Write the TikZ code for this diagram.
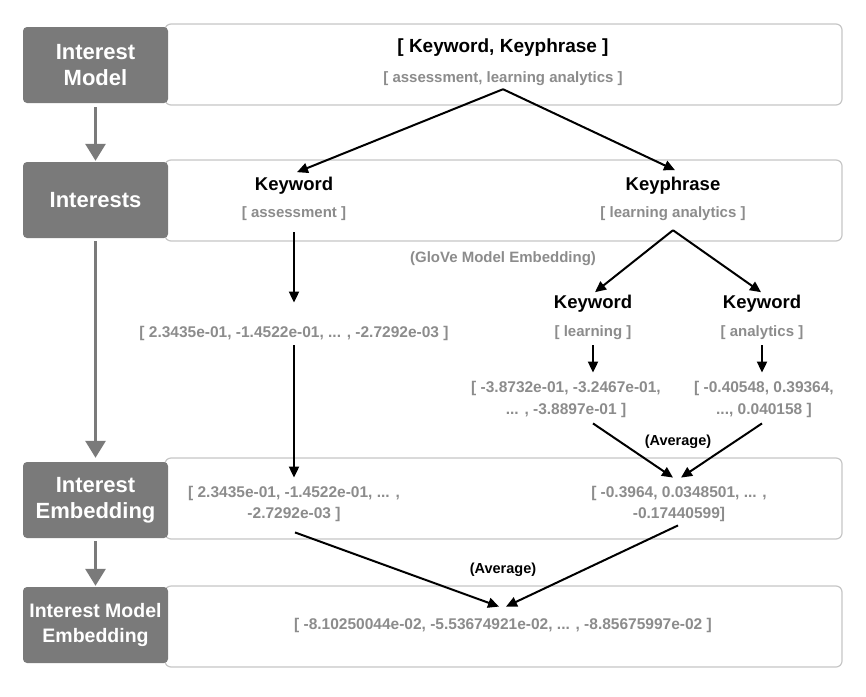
\documentclass[tikz,border=0pt]{standalone}
\usepackage{fontspec}
\setmainfont{Liberation Sans}
\usetikzlibrary{arrows.meta,calc}
\definecolor{boxgray}{HTML}{7A7A7A}
\definecolor{txtgray}{HTML}{8C8C8C}
\definecolor{edgegray}{HTML}{C6C6C6}
\begin{document}
\begin{tikzpicture}[x=1pt,y=-1pt,
  panel/.style={draw=edgegray, line width=1.2pt, rounded corners=6pt, fill=white,
    minimum width=677pt, minimum height=81pt, inner sep=0pt},
  sidebox/.style={fill=boxgray, rounded corners=4pt, minimum width=145pt, minimum height=76pt,
    text=white, font=\bfseries\fontsize{22}{26}\selectfont, align=center, inner sep=0pt},
  blacktxt/.style={inner sep=0pt, font=\bfseries\fontsize{18.5}{22}\selectfont},
  graytxt/.style={inner sep=0pt, text=txtgray, font=\bfseries\fontsize{15}{22}\selectfont, align=center},
  avgtxt/.style={inner sep=0pt, font=\bfseries\fontsize{14.5}{18}\selectfont},
  flow/.style={draw=black, line width=2pt, -{Triangle[width=10pt,length=11pt]}},
  stage/.style={draw=boxgray, line width=3pt, -{Triangle[width=20pt,length=17pt]}}
]
\useasboundingbox (0,0) rectangle (866,696);

% panels
\node[panel] (p1) at (503.5,64.5) {};
\node[panel] (p2) at (503.5,200.5) {};
\node[panel] (p3) at (503.5,498.5) {};
\node[panel] (p4) at (503.5,626.5) {};

% side labels
\node[sidebox] (s1) at (95.5,65) {Interest\\Model};
\node[sidebox] (s2) at (95.5,200) {Interests};
\node[sidebox] (s3) at (95.5,500) {Interest\\Embedding};
\node[sidebox, font=\bfseries\fontsize{19.5}{25}\selectfont] (s4) at (95.5,625) {Interest Model\\Embedding};

% stage arrows
\draw[stage] ($(s1.south)+(0,4)$) -- ($(s2.north)+(0,-1)$);
\draw[stage] ($(s2.south)+(0,3)$) -- ($(s3.north)+(0,-4)$);
\draw[stage] ($(s3.south)+(0,3)$) -- ($(s4.north)+(0,-1)$);

% row 1
\node[blacktxt, font=\bfseries\fontsize{19}{22}\selectfont] (t1) at (503,48) {[ Keyword, Keyphrase ]};
\node[graytxt] (t1g) at (503,79) {[ assessment, learning analytics ]};

% row 2
\node[blacktxt] (kw) at (294,186) {Keyword};
\node[graytxt] (kwg) at (294,214) {[ assessment ]};
\node[blacktxt] (kp) at (673,186) {Keyphrase};
\node[graytxt] (kpg) at (673,214) {[ learning analytics ]};

\draw[flow] ($(t1g.south)+(0,3)$) -- ($(kw.north)+(3,-5)$);
\draw[flow] ($(t1g.south)+(0,3)$) -- ($(kp.north)+(2,-7)$);

% glove section
\node[graytxt] (glove) at (503,259) {(GloVe Model Embedding)};
\node[graytxt, font=\bfseries\fontsize{15.5}{22}\selectfont] (vecA) at (294,333) {[ 2.3435e-01, -1.4522e-01, ... , -2.7292e-03 ]};
\node[blacktxt] (kw1) at (593,304) {Keyword};
\node[graytxt] (kw1g) at (593,333) {[ learning ]};
\node[blacktxt] (kw2) at (762,304) {Keyword};
\node[graytxt] (kw2g) at (762,333) {[ analytics ]};

\draw[flow] ($(kwg.south)+(0,11)$) -- ($(vecA.north)+(0,-23)$);
\draw[flow] ($(kpg.south)+(0,9)$) -- ($(kw1.north)+(2,-3)$);
\draw[flow] ($(kpg.south)+(0,9)$) -- ($(kw2.north)+(-1,-3)$);

\node[graytxt, font=\bfseries\fontsize{15.5}{22}\selectfont] (vecL) at (566,399) {[ -3.8732e-01, -3.2467e-01,\\... , -3.8897e-01 ]};
\node[graytxt, font=\bfseries\fontsize{15.5}{22}\selectfont] (vecR) at (764,399) {[ -0.40548, 0.39364,\\..., 0.040158 ]};

\draw[flow] ($(kw1g.south)+(0,5)$) -- ($(kw1g.south |- vecL.north)+(0,-8)$);
\draw[flow] ($(kw2g.south)+(0,5)$) -- ($(kw2g.south |- vecR.north)+(0,-8)$);

\node[avgtxt] (avg1) at (678,442) {(Average)};

% row 3
\node[graytxt, font=\bfseries\fontsize{15.5}{21}\selectfont] (embL) at (294,503.5) {[ 2.3435e-01, -1.4522e-01, ... ,\\-2.7292e-03 ]};
\node[graytxt, font=\bfseries\fontsize{15.5}{21}\selectfont] (embR) at (679,503.5) {[ -0.3964, 0.0348501, ... ,\\-0.17440599]};

\draw[flow] ($(vecA.south)+(0,5)$) -- ($(vecA.south |- embL.north)+(0,-8)$);
\draw[flow] ($(vecL.south -| kw1g.south)+(0,6)$) -- ($(embR.north)+(-6,-8)$);
\draw[flow] ($(vecR.south -| kw2g.south)+(0,6)$) -- ($(embR.north)+(2,-8)$);

\node[avgtxt] (avg2) at (503,570) {(Average)};

% row 4
\node[graytxt, font=\bfseries\fontsize{15.5}{22}\selectfont] (fin) at (503,625) {[ -8.10250044e-02, -5.53674921e-02, ... , -8.85675997e-02 ]};

\draw[flow] ($(embL.south)+(1,11)$) -- ($(fin.north)+(-4,-11)$);
\draw[flow] ($(embR.south)+(-1,4)$) -- ($(fin.north)+(3,-11)$);
\end{tikzpicture}
\end{document}
